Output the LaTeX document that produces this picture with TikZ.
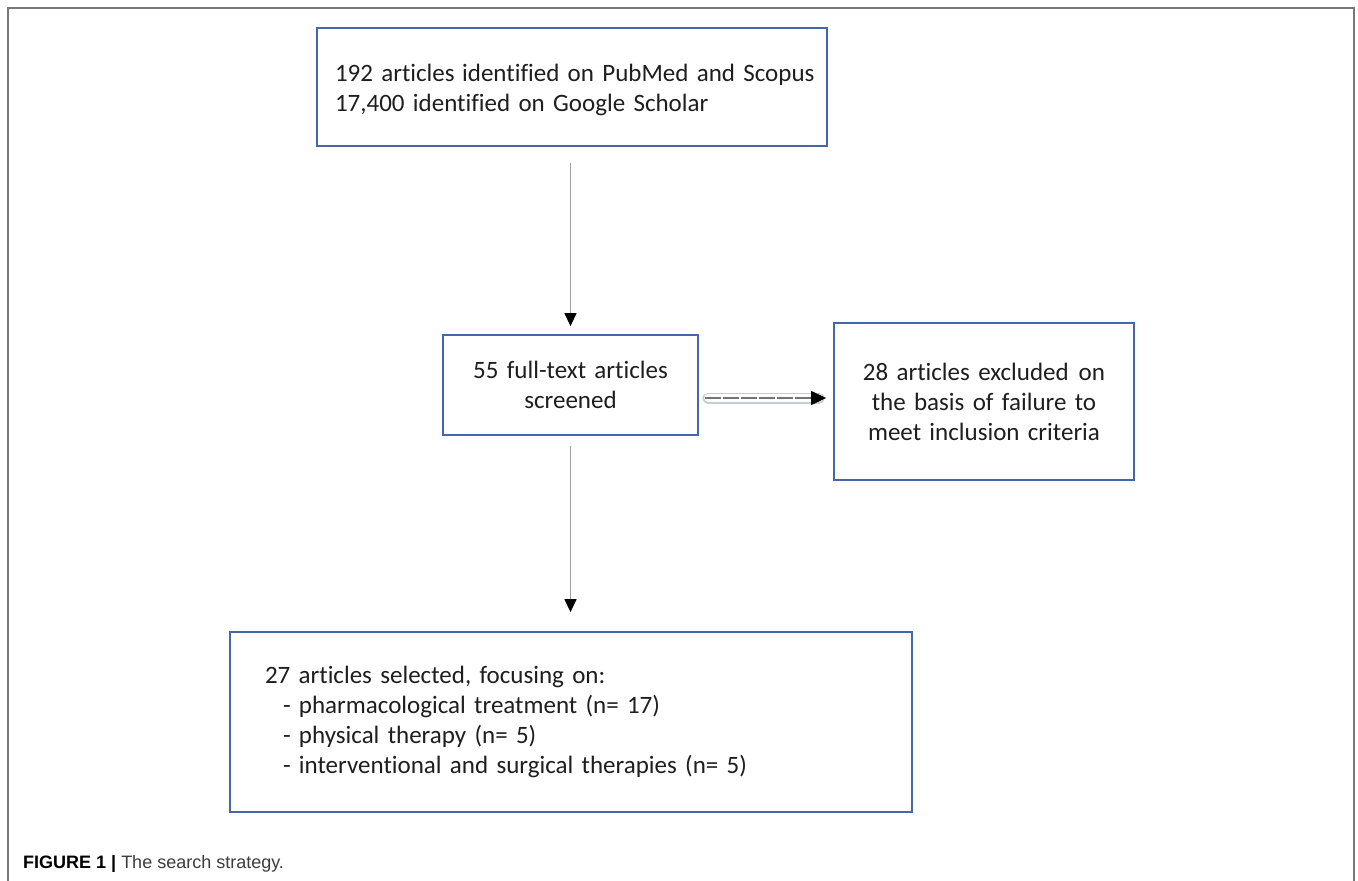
\documentclass[tikz,border=0pt]{standalone}
\usepackage{fontspec}
\setmainfont{Carlito}[Ligatures=NoCommon]
\newfontfamily\capfont{Liberation Sans}
\usetikzlibrary{arrows.meta,calc}
\definecolor{boxc}{RGB}{70,102,168}
\definecolor{framec}{RGB}{120,120,120}
\definecolor{arrc}{RGB}{160,160,160}
\definecolor{outlc}{RGB}{196,204,220}
\definecolor{txtc}{RGB}{30,30,30}
\definecolor{captxt}{RGB}{60,60,60}
\tikzset{
  flowbox/.style={draw=boxc, line width=1.8pt, inner ysep=0pt, text=txtc,
    font=\fontsize{25}{30}\selectfont},
  arr/.style={draw=arrc, line width=1.3pt, -{Triangle[width=12pt,length=13pt,color=black]}},
}
\begin{document}
\begin{tikzpicture}[x=1pt,y=-1pt]
\useasboundingbox (0,0) rectangle (1358,881);
\fill[white] (0,0) rectangle (1358,881);
\draw[framec, line width=2pt] (8,881) -- (8,8) -- (1354,8) -- (1354,881);

\node[flowbox, minimum width=510pt, minimum height=118pt, inner xsep=18pt,
      text width=474pt, align=left] (b1) at (572,87)
  {\rule{0pt}{24pt}\mbox{192 articles\hspace{0.3em}identified on PubMed and Scopus}\\\mbox{17,400 identified on Google Scholar}};

\node[flowbox, minimum width=255pt, minimum height=100pt, inner xsep=0pt,
      text width=255pt, align=center] (b2) at (570.5,385)
  {55 full-text articles\\screened};

\node[flowbox, minimum width=300pt, minimum height=157pt, inner xsep=0pt,
      text width=300pt, align=center] (b3) at (984,401.5)
  {\mbox{28 articles excluded\hspace{0.4em}on}\\the basis of failure to\\meet inclusion criteria};

\node[flowbox, minimum width=682pt, minimum height=180pt, inner xsep=35pt,
      text width=612pt, align=left] (b4) at (571,722)
  {27 articles selected, focusing on:\\
   \hspace*{18pt}- pharmacological treatment (n= 17)\\
   \hspace*{18pt}- physical therapy (n= 5)\\
   \hspace*{18pt}- interventional and surgical therapies (n= 5)};

% vertical arrows
\draw[arr, shorten <=16pt, shorten >=8pt] (b1.south -| b2.north) -- (b2.north);
\draw[arr, shorten <=10pt, shorten >=19pt] (b2.south) -- (b2.south |- b4.north);

% horizontal arrow with outlined look
\draw[outlc, line width=11pt, line cap=round, shorten <=9pt, shorten >=14pt]
  ([yshift=-13pt]b2.east) -- ([yshift=3.5pt]b3.west);
\draw[white, line width=7.5pt, line cap=round, shorten <=9pt, shorten >=14pt]
  ([yshift=-13pt]b2.east) -- ([yshift=3.5pt]b3.west);
\draw[draw=gray!90!black, line width=1.3pt, dash pattern=on 16pt off 2pt, shorten <=6pt, shorten >=7pt,
      -{Triangle[width=14pt,length=15pt,color=black]}]
  ([yshift=-13pt]b2.east) -- ([yshift=3.5pt]b3.west);

% caption
\node[anchor=base west, inner sep=0pt, font=\capfont\fontsize{18}{21}\selectfont] (cap) at (23,868)
  {\textbf{FIGURE 1 |} \textcolor{captxt}{The search strategy.}};
\end{tikzpicture}
\end{document}
